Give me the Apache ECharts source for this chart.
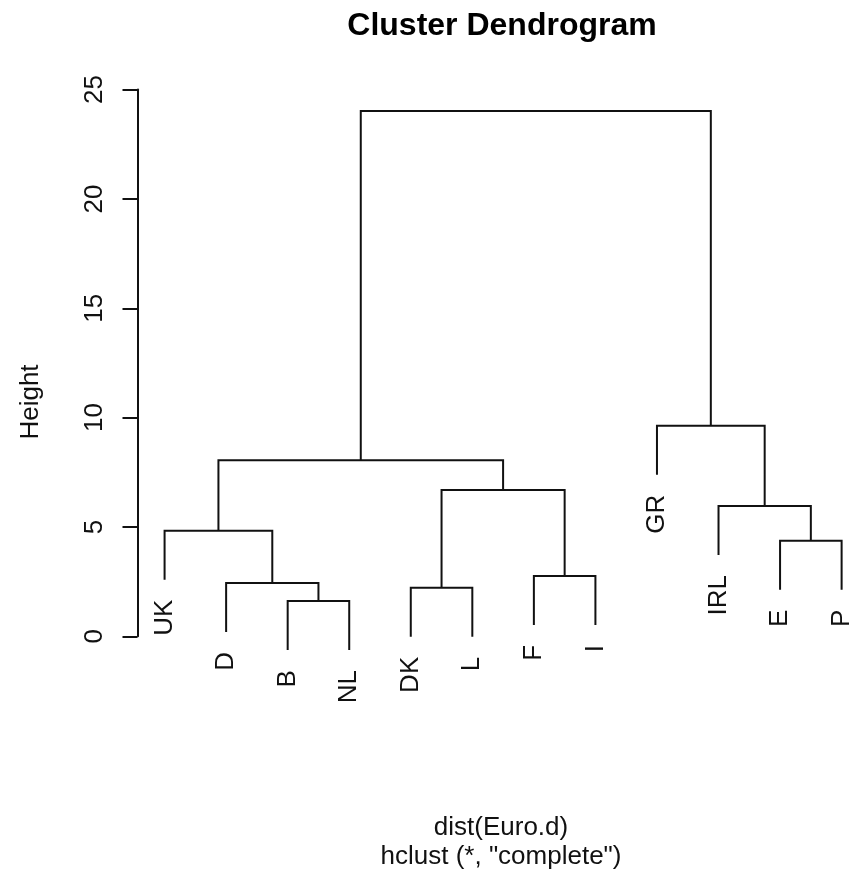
<!DOCTYPE html>
<html>
<head>
<meta charset="utf-8">
<script src="https://cdn.jsdelivr.net/npm/echarts@6/dist/echarts.min.js"></script>
<style>
  html, body { margin: 0; padding: 0; background: #fff; }
  #chart { width: 853px; height: 880px; }
</style>
</head>
<body>
<div id="chart"></div>
<script>
// Leaves in dendrogram order
const leafLabels = ['UK', 'D', 'B', 'NL', 'DK', 'L', 'F', 'I', 'GR', 'IRL', 'E', 'P'];

// Agglomeration steps, hclust style: negative = leaf (1-based in leafLabels),
// positive = result of an earlier step (1-based)
const mergeLeft   = [-3, -5, -2, -7, -11, -1, -10, 2, 6, -9, 9];
const mergeRight  = [-4, -6,  1, -8, -12,  3,   5, 4, 8,  7, 10];
const mergeHeight = [1.61, 2.22, 2.44, 2.76, 4.37, 4.83, 5.96, 6.69, 8.05, 9.63, 24.02];

// Y axis ticks
const yTicks = [0, 5, 10, 15, 20, 25];

const FONT = '"Liberation Sans", Arial, sans-serif';
const INK = '#111111';
const LINE_W = 2;
const HANG = 0.1; // fraction of the height range that leaves hang below their merge

// Lay out the tree: leaf i sits at x = i + 1; an internal node sits midway between its children
const leafX = leafLabels.map((_, i) => i + 1);
const nodeX = [];
const hRange = Math.max(...mergeHeight) - Math.min(...mergeHeight);
const hangDepth = HANG * hRange;

function childX(ref) { return ref < 0 ? leafX[-ref - 1] : nodeX[ref - 1]; }

const branchData = [];   // [xLeft, yLeftEnd, xRight, yRightEnd, height]
const leafData = [];     // [x, yBottom, label]
mergeHeight.forEach((h, i) => {
  const l = mergeLeft[i], r = mergeRight[i];
  const xl = childX(l), xr = childX(r);
  nodeX[i] = (xl + xr) / 2;
  const yl = l < 0 ? h - hangDepth : mergeHeight[l - 1];
  const yr = r < 0 ? h - hangDepth : mergeHeight[r - 1];
  if (l < 0) leafData.push([xl, yl, leafLabels[-l - 1]]);
  if (r < 0) leafData.push([xr, yr, leafLabels[-r - 1]]);
  branchData.push([xl, yl, xr, yr, h]);
});

const chart = echarts.init(document.getElementById('chart'), null, { renderer: 'canvas' });

chart.setOption({
  backgroundColor: '#ffffff',
  animation: false,
  grid: { left: 137.5, top: 89.6, right: 0, height: 546.7, containLabel: false },
  xAxis: {
    // plotting region runs past the right edge of the canvas
    type: 'value', min: 0.56, max: 12.185, show: false
  },
  yAxis: {
    type: 'value', min: yTicks[0], max: yTicks[yTicks.length - 1], interval: 5,
    axisLine: { show: true, lineStyle: { color: INK, width: LINE_W } },
    axisTick: { show: true, length: 15, inside: false, lineStyle: { color: INK, width: LINE_W } },
    axisLabel: {
      rotate: 90, margin: 30, color: INK,
      fontFamily: FONT, fontSize: 26,
      formatter: v => (yTicks.indexOf(v) >= 0 ? String(v) : '')
    },
    splitLine: { show: false }
  },
  graphic: [
    { type: 'text', x: 502, y: 26, style: { text: 'Cluster Dendrogram', align: 'center', verticalAlign: 'middle', font: 'bold 32px ' + FONT, fill: '#000' } },
    { type: 'text', x: 31, y: 402, rotation: Math.PI / 2, style: { text: 'Height', align: 'center', verticalAlign: 'middle', font: '26px ' + FONT, fill: INK } },
    { type: 'text', x: 501, y: 828, style: { text: 'dist(Euro.d)', align: 'center', verticalAlign: 'middle', font: '26px ' + FONT, fill: INK } },
    { type: 'text', x: 501, y: 857, style: { text: 'hclust (*, "complete")', align: 'center', verticalAlign: 'middle', font: '26px ' + FONT, fill: INK } }
  ],
  series: [
    {
      type: 'custom',
      clip: false,
      data: branchData,
      renderItem: function (params, api) {
        const pl = api.coord([api.value(0), api.value(1)]);
        const pr = api.coord([api.value(2), api.value(3)]);
        const yh = api.coord([0, api.value(4)])[1];
        return {
          type: 'polyline',
          shape: { points: [pl, [pl[0], yh], [pr[0], yh], pr] },
          style: { stroke: INK, lineWidth: LINE_W, fill: null }
        };
      }
    },
    {
      type: 'custom',
      clip: false,
      data: leafData,
      renderItem: function (params, api) {
        const p = api.coord([api.value(0), api.value(1)]);
        return {
          type: 'text',
          x: p[0],
          y: p[1] + 20,
          rotation: Math.PI / 2,
          style: {
            text: leafData[params.dataIndex][2],
            align: 'right', verticalAlign: 'middle',
            font: '26px ' + FONT, fill: INK
          }
        };
      }
    }
  ]
});
</script>
</body>
</html>
